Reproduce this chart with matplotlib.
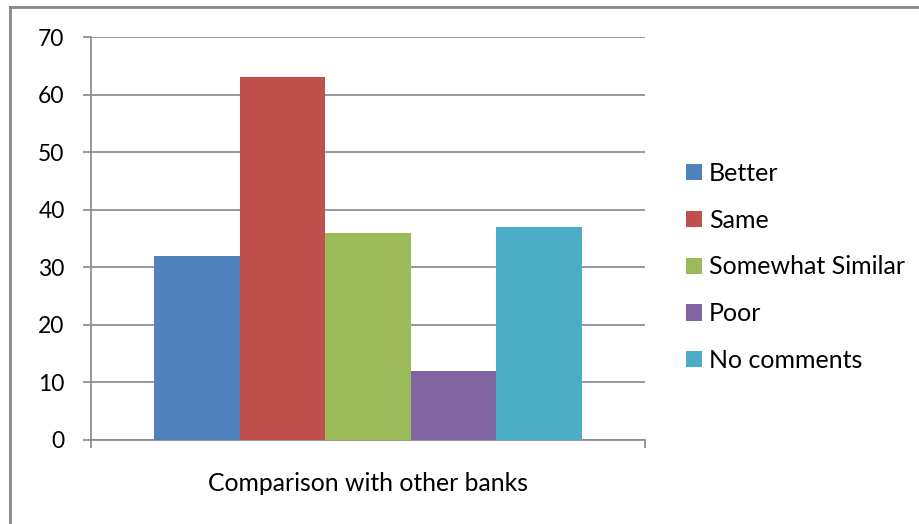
import matplotlib
matplotlib.use('Agg')
import matplotlib.pyplot as plt
from matplotlib.lines import Line2D

categories = ['Better', 'Same', 'Somewhat Similar', 'Poor', 'No comments']
values = [32, 63, 36, 12, 37]
colors = ['#4F81BD', '#C0504D', '#9BBB59', '#8064A2', '#4BACC6']
group_label = 'Comparison with other banks'
yticks = [0, 10, 20, 30, 40, 50, 60, 70]

plt.rcParams['font.family'] = ['Lato', 'DejaVu Sans']

W, H = 919, 524
fig = plt.figure(figsize=(W / 100, H / 100), dpi=100)
ax = fig.add_axes([91 / W, (H - 440) / H, (645 - 91) / W, (440 - 37) / H])

grey = '#878787'
width = 0.1542
n = len(values)
for i, (cat, val, col) in enumerate(zip(categories, values, colors)):
	x = (i - (n - 1) / 2) * width
	ax.bar(x, val, width=width, color=col, label=cat, zorder=3)

ax.set_xlim(-0.5, 0.5)
ax.set_ylim(0, 70)
ax.set_yticks(yticks)
ax.yaxis.grid(True, color=grey, linewidth=1.2, zorder=0)
ax.tick_params(axis='y', length=6, width=1.2, color=grey, pad=13, labelsize=16.5)

ax.set_xticks([0])
ax.set_xticklabels([group_label])
ax.tick_params(axis='x', which='major', length=0, pad=23, labelsize=17.8)
ax.set_xticks([-0.5, 0.5], minor=True)
ax.tick_params(axis='x', which='minor', length=6, width=1.2, color=grey)

for side in ['top', 'right']:
	ax.spines[side].set_visible(False)
for side in ['left', 'bottom']:
	ax.spines[side].set_color(grey)
	ax.spines[side].set_linewidth(1.2)

fig.legend(loc='center left', bbox_to_anchor=(686 / W, (H - 267) / H), frameon=False,
	handlelength=0.62, handleheight=0.62, handletextpad=0.3, labelspacing=0.95,
	fontsize=18, borderaxespad=0, borderpad=0)

# outer chart frame (top and left edges visible)
fig.add_artist(Line2D([10 / W, 1], [1 - 7 / H, 1 - 7 / H], transform=fig.transFigure, color=grey, linewidth=2))
fig.add_artist(Line2D([10 / W, 10 / W], [0, 1 - 7 / H], transform=fig.transFigure, color=grey, linewidth=2))

fig.savefig('out.png', dpi=100)
